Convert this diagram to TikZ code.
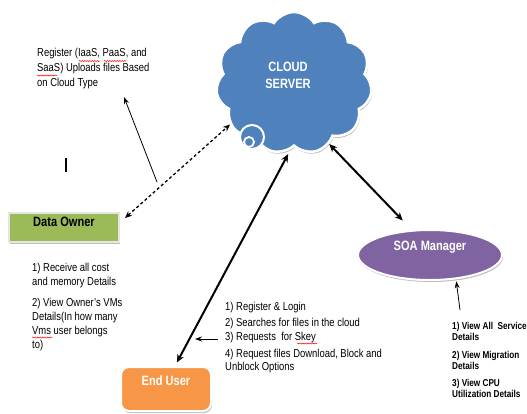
\documentclass[tikz,border=0pt]{standalone}
\usepackage{fontspec}
\setmainfont{Liberation Sans}[FakeStretch=0.82]
\usetikzlibrary{shapes.symbols,shapes.geometric,arrows.meta,shadows,calc,decorations.pathmorphing}
\definecolor{cblue}{HTML}{4F81BD}
\definecolor{cgreen}{HTML}{9BBB59}
\definecolor{cpurple}{HTML}{8064A2}
\definecolor{corange}{HTML}{F79646}
\begin{document}
\begin{tikzpicture}[x=1pt,y=-1pt,
  txt/.style={inner sep=0pt, align=left, anchor=north west, font=\fontsize{11.5}{14}\selectfont},
  soatxt/.style={inner sep=0pt, align=left, anchor=north west, font=\bfseries\fontsize{10}{11}\selectfont},
  lbl/.style={inner sep=0pt, font=\bfseries\fontsize{13.5}{16}\selectfont},
  shad/.style={drop shadow={shadow xshift=1pt, shadow yshift=-2pt, fill=black, opacity=0.25}},
  conn/.style={line width=2pt, {Stealth[length=8pt,width=7pt]}-{Stealth[length=8pt,width=7pt]}},
  dconn/.style={line width=1.3pt, dashed, dash pattern=on 3pt off 2.5pt, {Stealth[length=7pt,width=6pt]}-{Stealth[length=7pt,width=6pt]}},
  tconn/.style={line width=0.8pt, -{Stealth[length=7pt,width=5pt]}},
  squig/.style={red, line width=0.5pt, decorate, decoration={snake, amplitude=0.6pt, segment length=2.5pt}}
]
\useasboundingbox (0,0) rectangle (527,413);

% cloud
\node[cloud, cloud puffs=11, cloud puff arc=115, aspect=1.1, fill=cblue, draw=white, line width=2.5pt,
      minimum width=156pt, minimum height=142pt, shad] (cloud) at (294,83) {};
\node[circle, fill=cblue, draw=white, line width=2pt, minimum size=24pt, inner sep=0pt] (swirl) at (252,137) {};
\node[circle, fill=cblue, draw=white, line width=1.8pt, minimum size=10pt, inner sep=0pt] (swirlin) at (249,142) {};
\node[lbl, text=white, align=center, font=\bfseries\fontsize{13.5}{17}\selectfont] (cloudlbl) at (288,75.5) {CLOUD\\SERVER};

% data owner
\node[rectangle, fill=cgreen, draw=gray!20, line width=2pt, minimum width=110pt, minimum height=29pt, inner sep=0pt, shad] (owner) at (64,227.5) {};
\node[lbl] (ownerlbl) at (64,222) {Data Owner};

% SOA manager
\node[ellipse, fill=cpurple, draw=white, line width=2pt, minimum width=144pt, minimum height=50pt, inner sep=0pt, shad] (soa) at (430,255) {};
\node[lbl, text=white] (soalbl) at (430,247) {SOA Manager};

% end user
\node[rectangle, rounded corners=8pt, fill=corange, draw=white, line width=2pt, minimum width=90pt, minimum height=44pt, inner sep=0pt, shad] (enduser) at (166,389) {};
\node[lbl, text=white] (enduserlbl) at (166,381) {End User};

% texts
\node[txt] (regtxt) at (37,48) {Register (IaaS, PaaS, and\\[1pt]SaaS) Uploads files Based\\[1pt]on Cloud Type};
\node[txt] (ownertxt) at (32,263) {1) Receive all cost\\and memory Details\\[7pt]2) View Owner’s VMs\\Details(In how many\\Vms user belongs\\to)};
\node[txt] (usertxt) at (225,302) {1) Register \& Login\\[2pt]2) Searches for files in the cloud\\3) Requests~ for Skey\\[3pt]4) Request files Download, Block and\\[-1pt]Unblock Options};
\node[soatxt] (soatxt) at (452,322) {1) View All~ Service\\Details\\[7pt]2) View Migration\\Details\\[6pt]3) View CPU\\Utilization Details};

% cursor
\draw[line width=1.2pt] (66,158) -- (66,172);

% connectors
\draw[conn, shorten <=4pt, shorten >=5pt] ([xshift=9pt]enduser.north) -- (cloud.-93);
\draw[conn, shorten >=13pt] (cloud.-60) -- (soa.126);
\draw[dconn] ([xshift=5pt,yshift=-6pt]owner.north east) -- (cloud.-147);

\coordinate (a1) at (157,182);
\coordinate (a1e) at (124,97);
\draw[tconn] (a1) -- (a1e);
\coordinate (a2) at (218,339);
\coordinate (a2e) at (195,339);
\draw[tconn] (a2) -- (a2e);
\coordinate (a3) at (460,310);
\draw[tconn, shorten >=2pt] (a3) -- (soa.-43);

% spelling marks
\draw[squig] (79,61) -- (100,61);
\draw[squig] (104,61) -- (126,61);
\draw[squig] (37,75.5) -- (57,75.5);
\draw[squig] (32,337.5) -- (52,337.5);
\draw[squig] (297,343.5) -- (317,343.5);
\end{tikzpicture}
\end{document}
